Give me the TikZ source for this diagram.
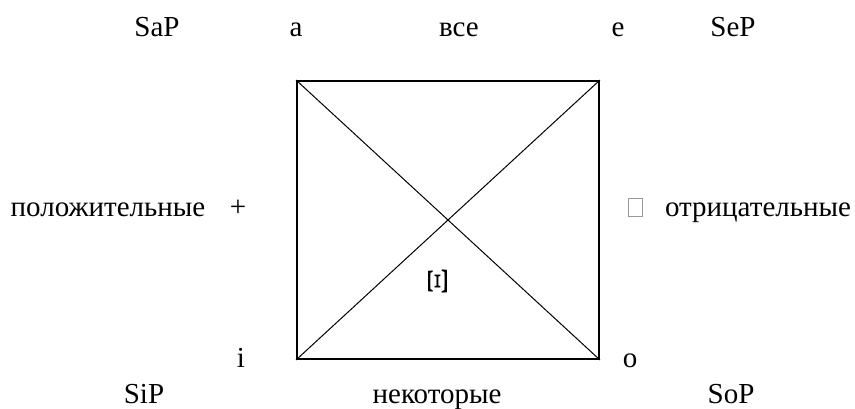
\documentclass[tikz,border=0pt]{standalone}
\usepackage{fontspec}
\setmainfont{Liberation Serif}
\usepackage{tikz}

\begin{document}
\begin{tikzpicture}[x=1pt, y=-1pt,
        lbl/.style={font=\fontsize{29}{34}\selectfont, inner sep=0pt, anchor=base},
        sq/.style={rectangle, draw, line width=2pt, inner sep=0pt,
                   minimum width=302pt, minimum height=278pt},
        diag/.style={line width=1pt},
        nobox/.style={rectangle, draw=gray!80, line width=0.8pt, inner sep=0pt,
                      minimum width=14pt, minimum height=18pt, anchor=south},
      ]
        \useasboundingbox (0,0) rectangle (855,409);

        % square with diagonals
        \node[sq] (sq) at (448,220) {};
        \draw[diag] (sq.north west) -- (sq.south east);
        \draw[diag] (sq.north east) -- (sq.south west);

        % top row
        \node[lbl] (sap) at (157,37) {SaP};
        \node[lbl] (a)   at (296,37) {а};
        \node[lbl] (vse) at (459,37) {все};
        \node[lbl] (e)   at (618,37) {е};
        \node[lbl] (sep) at (733,37) {SeP};

        % middle row
        \node[lbl] (pos)  at (108,217) {положительные};
        \node[lbl] (plus) at (238,217) {+};
        \node[nobox] (neg) at (635,217) {};
        \node[lbl] (otr)  at (758,217) {отрицательные};
        \node[lbl, anchor=center, rotate=90] (xi) at (438,282)
              {\scalebox{1.5}[1]{Ξ}};

        % bottom rows
        \node[lbl] (i)   at (241,367) {i};
        \node[lbl] (o)   at (630,367) {o};
        \node[lbl] (sip) at (144,403) {SiP};
        \node[lbl] (nek) at (437,403) {некоторые};
        \node[lbl] (sop) at (731,403) {SoP};
      \end{tikzpicture}
\end{document}
